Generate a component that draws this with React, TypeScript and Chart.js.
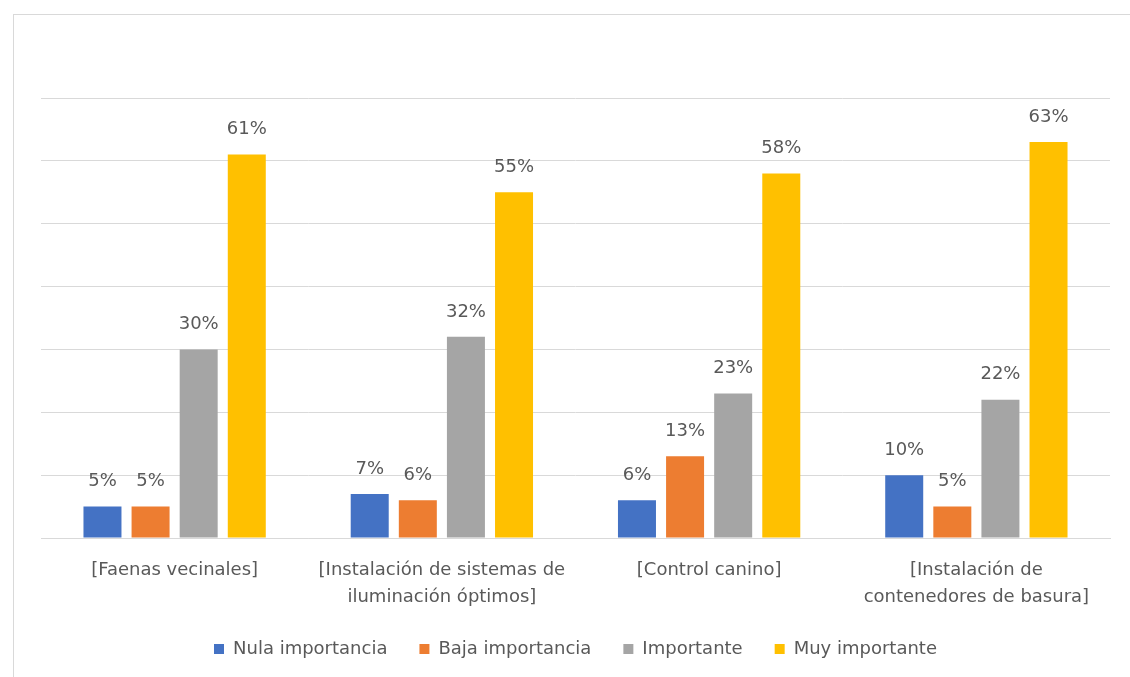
import React, { useEffect, useRef } from "react";
import { Chart, registerables } from "chart.js";

Chart.register(...registerables);

const categories: string[][] = [
  ["[Faenas vecinales]"],
  ["[Instalación de sistemas de", "iluminación óptimos]"],
  ["[Control canino]"],
  ["[Instalación de", "contenedores de basura]"],
];
const seriesNames = ["Nula importancia", "Baja importancia", "Importante", "Muy importante"];
const nula = [5, 7, 6, 10];
const baja = [5, 6, 13, 5];
const importante = [30, 32, 23, 22];
const muyImportante = [61, 55, 58, 63];
const colors = ["#4472C4", "#ED7D31", "#A5A5A5", "#FFC000"];
const yMax = 70;
const yStep = 10;

const FONT = "'DejaVu Sans', sans-serif";
const TEXT = "#595959";

const dataLabels = {
  id: "dataLabels",
  afterDatasetsDraw(chart: any) {
    const ctx = chart.ctx;
    ctx.save();
    ctx.font = `18px ${FONT}`;
    ctx.fillStyle = TEXT;
    ctx.textAlign = "center";
    ctx.textBaseline = "middle";
    chart.data.datasets.forEach((ds: any, i: number) => {
      const meta = chart.getDatasetMeta(i);
      meta.data.forEach((bar: any, j: number) => {
        ctx.fillText(`${ds.data[j]}%`, bar.x, bar.y - 25);
      });
    });
    ctx.restore();
  },
};

export default function App() {
  const ref = useRef<HTMLCanvasElement | null>(null);
  useEffect(() => {
    if (!ref.current) return;
    const seriesData = [nula, baja, importante, muyImportante];
    const chart = new Chart(ref.current, {
      type: "bar",
      data: {
        labels: categories,
        datasets: seriesNames.map((name, i) => ({
          label: name,
          data: seriesData[i],
          backgroundColor: colors[i],
          borderWidth: 0,
          categoryPercentage: 0.72,
          barPercentage: 0.79,
        })),
      },
      options: {
        responsive: false,
        animation: false,
        layout: { padding: { top: 98, left: 41, right: 20, bottom: 9 } },
        plugins: {
          tooltip: { enabled: false },
          legend: {
            position: "bottom",
            labels: {
              boxWidth: 10,
              boxHeight: 10,
              padding: 32,
              color: TEXT,
              font: { family: FONT, size: 18 },
            },
          },
        },
        scales: {
          x: {
            grid: { display: false, drawTicks: false },
            border: { color: "#d9d9d9" },
            ticks: {
              color: TEXT,
              padding: 19,
              maxRotation: 0,
              autoSkip: false,
              font: { family: FONT, size: 18, lineHeight: 1.5 },
            },
            afterFit: (scale: any) => {
              scale.height = scale.height - 22;
            },
          },
          y: {
            min: 0,
            max: yMax,
            ticks: { display: false, stepSize: yStep },
            grid: { color: "#d9d9d9", drawTicks: false },
            border: { display: false },
          },
        },
      },
      plugins: [dataLabels],
    });
    return () => chart.destroy();
  }, []);
  return (
    <div style={{ position: "absolute", left: 0, top: 0, width: 1130, height: 677, overflow: "hidden", background: "#fff" }}>
      <div style={{ position: "absolute", left: 13, top: 14, width: 1200, height: 800, borderLeft: "1px solid #d9d9d9", borderTop: "1px solid #d9d9d9" }} />
      <canvas ref={ref} width={1130} height={677} style={{ position: "absolute", left: 0, top: 0 }} />
    </div>
  );
}
